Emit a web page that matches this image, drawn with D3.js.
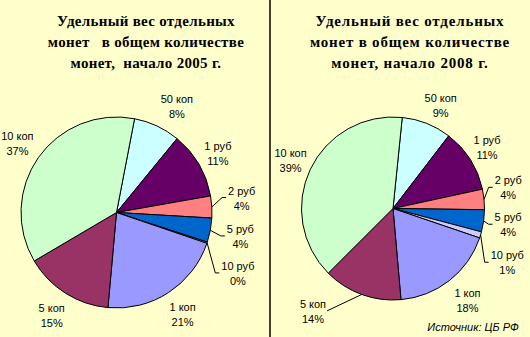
<!DOCTYPE html>
<html>
<head>
<meta charset="utf-8">
<script src="https://cdn.jsdelivr.net/npm/d3@7"></script>
<style>
  body { margin: 0; background: #FFFFCC; }
  svg { display: block; }
</style>
</head>
<body>
<div id="chart"></div>
<script>
// coin names, clockwise from the top
const coins = ["50 коп", "1 руб", "2 руб", "5 руб", "10 руб", "1 коп", "5 коп", "10 коп"];
const coinColors = ["#CCFFFF", "#660066", "#FF8080", "#0066CC", "#CCCCFF", "#9999FF", "#993366", "#CCFFCC"];

// share of each coin, %
const share2005 = [7.9, 11.3, 3.7, 4.1, 0.2, 21.2, 15.1, 36.5];
const share2008 = [8.8, 11.2, 3.6, 3.9, 1.1, 18.4, 13.9, 39.1];

const title2005 = ["Удельный вес отдельных", "монет   в общем количестве", "монет,  начало 2005 г."];
const title2008 = ["Удельный вес отдельных", "монет в общем количестве", "монет, начало 2008 г."];
const sourceNote = "Источник: ЦБ РФ";

(function() {
  const width = 530, height = 337;
  const svg = d3.select("#chart").append("svg")
    .attr("width", width)
    .attr("height", height);

  svg.append("rect").attr("width", width).attr("height", height).attr("fill", "#FFFFCC");

  // divider between the two panels
  svg.append("line")
    .attr("x1", 270).attr("x2", 270)
    .attr("y1", 0).attr("y2", height)
    .attr("stroke", "#000").attr("stroke-width", 1.5);

  const rad = deg => deg * Math.PI / 180;
  const fmt = d => Math.round(d) + "%";

  function drawPie(opts) {
    const g = svg.append("g").attr("transform", `translate(${opts.cx},${opts.cy})`);
    const r = opts.r;

    // title
    const t = svg.append("text")
      .attr("x", opts.titleX)
      .attr("text-anchor", "middle")
      .style("font-family", "'Liberation Serif', 'Times New Roman', serif")
      .style("font-weight", "bold")
      .style("font-size", "15px")
      .style("letter-spacing", opts.titleSpacing + "px")
      .style("white-space", "pre")
      .attr("fill", "#000");
    opts.title.forEach((line, i) => {
      t.append("tspan").attr("x", opts.titleX).attr("y", 26 + i * 21).text(line);
    });

    const pie = d3.pie()
      .sort(null)
      .startAngle(rad(opts.start))
      .endAngle(rad(opts.start) + 2 * Math.PI);
    const arcs = pie(opts.values);
    const arc = d3.arc().innerRadius(0).outerRadius(r);

    g.selectAll("path.slice")
      .data(arcs)
      .join("path")
      .attr("class", "slice")
      .attr("d", arc)
      .attr("fill", (d, i) => coinColors[i])
      .attr("stroke", "#000")
      .attr("stroke-width", 1);

    // labels
    const fontSize = 11;
    arcs.forEach((d, i) => {
      const mid = (d.startAngle + d.endAngle) / 2;
      const adj = opts.nudge[coins[i]] || [0, 1.27];
      const a = mid + rad(adj[0]);
      const lr = r * adj[1];
      const lx = Math.sin(a) * lr;
      const ly = -Math.cos(a) * lr;

      const txt = g.append("text")
        .attr("text-anchor", "middle")
        .style("font-family", "'Liberation Sans', Arial, sans-serif")
        .style("font-size", fontSize + "px")
        .attr("fill", "#000");
      txt.append("tspan").attr("x", lx).attr("y", ly - 3).text(coins[i]);
      txt.append("tspan").attr("x", lx).attr("y", ly + 12).text(fmt(opts.values[i]));

      if (opts.nudge[coins[i]] && adj[2]) {
        const sx = Math.sin(mid) * r, sy = -Math.cos(mid) * r;
        const halfW = txt.node().getBBox().width / 2;
        let pts;
        if (lx > 0) {
          const ex = lx - halfW - 2;
          pts = [[sx, sy], [ex - 4, ly], [ex, ly]];
        } else {
          const ex = lx + halfW + 1;
          pts = [[sx, sy], [ex, ly]];
        }
        g.append("path")
          .attr("d", d3.line()(pts))
          .attr("fill", "none")
          .attr("stroke", "#000")
          .attr("stroke-width", 1);
      }
    });
  }

  drawPie({
    values: share2005, title: title2005, titleX: 146, titleSpacing: 0.3,
    cx: 116.5, cy: 212.5, r: 95.5, start: 10.9,
    nudge: {
      "50 коп": [4.5, 1.28],
      "1 руб": [0, 1.23],
      "2 руб": [-3.5, 1.32, true],
      "5 руб": [0, 1.32, true],
      "10 руб": [8, 1.42, true]
    }
  });

  drawPie({
    values: share2008, title: title2008, titleX: 410, titleSpacing: 0.8,
    cx: 393, cy: 208.5, r: 91.5, start: 5.8,
    nudge: {
      "50 коп": [3, 1.25],
      "1 руб": [-1, 1.23],
      "2 руб": [-4.7, 1.28, true],
      "5 руб": [0, 1.27, true],
      "10 руб": [8.4, 1.38, true],
      "1 коп": [-1, 1.29],
      "5 коп": [18, 1.42, true],
      "10 коп": [0, 1.24]
    }
  });

  svg.append("text")
    .attr("x", 473).attr("y", 331)
    .attr("text-anchor", "middle")
    .style("font-family", "'Liberation Sans', Arial, sans-serif")
    .style("font-style", "italic")
    .style("font-size", "11px")
    .text(sourceNote);
})();
</script>
</body>
</html>
